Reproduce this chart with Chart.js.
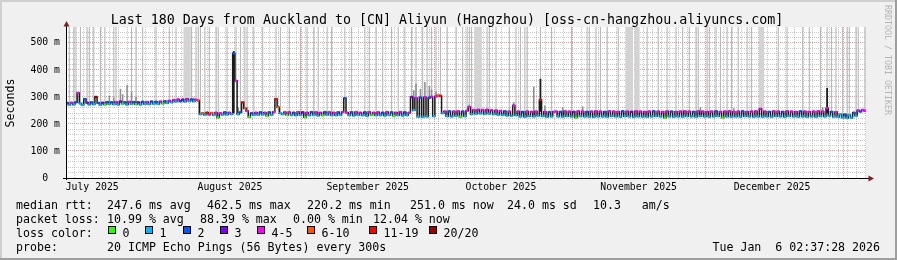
<!DOCTYPE html>
<html><head><meta charset="utf-8">
<style>html,body{margin:0;padding:0;background:#f0f0f0;overflow:hidden}canvas{display:block}</style>
<script src="https://cdn.jsdelivr.net/npm/chart.js@4.4.1/dist/chart.umd.min.js"></script>
</head><body>
<canvas id="c" width="897" height="260"></canvas>
<script>
// ---------------- data ----------------
const titleText = 'Last 180 Days from Auckland to [CN] Aliyun (Hangzhou) [oss-cn-hangzhou.aliyuncs.com]';
const monthLabels = ['July 2025','August 2025','September 2025','October 2025','November 2025','December 2025'];
const monthLabelDays = [5.89, 36.89, 67.89, 97.85, 128.85, 158.85];   // days since start (mid-month)
const monthStartDays = [21.89, 52.89, 82.85, 113.85, 143.85, 174.85]; // days since start (1st of month)
const minorGridStartDay = 1.89;   // minor grid every 2 days
const yGridValues = [0,20,40,60,80,100,120,140,160,180,200,220,240,260,280,300,320,340,360,380,400,420,440,460,480,500,520,540];
const Y_MAX = 559;

const lossLabels = ['0','1','2','3','4-5','6-10','11-19','20/20'];
const lossColors = ['#26ff00','#00b8ff','#0059ff','#7e00ff','#ff00ff','#ff5500','#ff0000','#a10000'];

const rttStats  = ['247.6 ms avg','462.5 ms max','220.2 ms min','251.0 ms now','24.0 ms sd','10.3   am/s'];
const lossStats = ['10.99 % avg','88.39 % max','0.00 % min','12.04 % now'];
const probeText = '20 ICMP Echo Pings (56 Bytes) every 300s';
const dateText  = 'Tue Jan  6 02:37:28 2026';

// median RTT (ms), one value per half day (360 samples)
const median = [
278,271,279,272,280,315,276,270,292,279,272,280,273,300,278,271,279,272,281,274,
280,273,281,272,283,275,280,272,282,274,281,273,280,272,282,274,281,273,283,275,
282,274,283,276,284,278,286,280,289,283,291,284,290,283,292,285,291,284,290,287,
236,240,234,242,235,241,233,242,224,240,234,243,235,242,236,462,360,236,243,280,
258,248,226,240,233,242,234,243,235,242,230,243,234,244,292,262,240,236,243,233,
243,233,242,232,244,233,243,225,242,232,244,233,243,231,242,232,244,234,243,232,
242,232,243,233,244,295,242,232,243,231,244,233,242,232,243,230,244,233,242,232,
243,232,242,231,244,233,243,230,242,232,244,231,243,232,242,300,251,296,227,298,
226,299,228,297,301,229,302,305,304,240,246,229,247,228,246,230,247,227,246,229,
249,263,236,252,238,253,239,252,237,253,238,251,236,250,234,248,233,247,231,246,
230,268,232,246,228,245,227,246,229,245,228,246,230,289,229,245,227,244,228,245,
246,228,245,227,247,229,246,228,245,224,247,229,246,228,245,227,246,226,247,228,
246,228,245,227,247,229,246,228,245,227,247,229,246,228,245,226,247,228,246,227,
245,227,246,228,247,229,246,228,245,223,247,228,246,227,245,228,246,227,247,229,
246,228,245,227,247,229,246,228,245,227,246,228,247,229,245,224,246,228,247,227,
245,228,246,227,247,229,245,228,246,227,247,228,256,227,246,228,245,227,247,229,
246,228,245,227,247,229,246,228,245,227,247,228,246,227,245,228,246,227,247,229,
246,228,258,230,245,227,244,226,236,224,235,222,233,223,242,230,250,246,252,249
];
// loss class per sample (index into lossColors)
const loss = [
2,1,4,1,2,4,1,1,2,3,1,2,1,7,2,1,3,0,2,1,
2,1,4,1,3,0,2,1,4,1,2,0,3,1,2,1,4,1,2,1,
2,1,4,0,2,1,4,1,4,1,4,2,3,1,4,1,2,1,4,5,
1,5,1,6,4,5,1,4,0,4,1,2,1,4,1,2,4,1,2,6,
5,4,0,2,1,4,1,2,1,4,0,2,1,4,6,5,1,1,4,0,
4,1,2,1,4,1,3,0,4,1,2,1,4,1,4,0,2,1,4,1,
4,1,2,1,4,2,4,1,2,1,4,1,4,1,2,1,4,0,4,1,
4,1,2,1,4,1,2,0,4,1,4,1,2,1,4,3,1,4,1,2,
1,4,1,2,4,1,4,5,6,1,4,1,2,1,4,1,4,0,2,1,
4,4,1,4,1,4,1,4,1,4,1,4,1,4,1,4,1,2,1,4,
1,4,1,4,1,2,1,4,1,4,1,4,1,6,1,4,1,2,1,4,
4,1,2,1,4,1,4,1,3,0,4,1,4,1,2,1,4,1,4,1,
4,1,2,1,4,1,4,1,4,1,2,1,4,1,3,1,4,1,4,1,
4,1,4,1,2,1,4,1,4,0,4,1,2,1,4,1,4,1,4,1,
4,1,2,1,4,1,4,1,4,1,4,1,2,1,4,0,4,1,4,1,
4,1,4,1,2,1,4,1,4,1,4,1,4,1,4,1,2,1,4,1,
4,1,2,1,4,1,4,1,4,1,2,1,4,1,4,1,4,1,4,1,
4,1,4,1,2,1,4,1,1,1,2,1,1,1,2,1,4,2,4,4
];
// samples whose smoke reaches above the graph top
const stripeIdx = [1,3,4,6,9,10,12,15,17,21,22,29,31,34,40,46,49,56,58,59,60,62,64,67,68,72,76,78,80,81,84,88,94,96,
  100,105,108,111,113,117,119,125,128,134,136,139,142,146,149,152,155,157,160,162,164,166,168,171,175,178,180,181,182,
  189,190,193,199,202,204,206,207,213,218,227,234,235,238,240,243,248,261,266,270,274,277,280,283,284,288,289,292,294,
  297,299,302,306,308,320,324,331,334,339,342,344,346,349,351,352,355,356,359];
const stripeDarkIdx = [53,54,55,184,185,186,252,253,254,256,257,312,313];
// denser smoke just above the median
const smokeIdx = [19,21,24,25,27,29,31,52,57,77,81,95,156,157,159,161,163,164,166,181,201,210,215,223,232,285,300,340];
const smokeTop = [305,298,330,310,345,318,300,297,298,262,262,270,325,350,330,355,340,328,320,272,280,338,268,262,265,262,258,262];
// dark spikes
const spikeIdx = [75,213,342];
const spikeLo  = [240,245,240];
const spikeHi  = [470,367,333];

// ---------------- build ----------------
const FONT = '"DejaVu Sans Mono", "Liberation Mono", monospace';
const xOf = i => i * 0.5 + 0.25;
const gridTicks = [];
for (let d = minorGridStartDay; d < 180; d += 2) {
  if (!monthStartDays.some(m => Math.abs(m - d) < 0.3)) gridTicks.push({value: d, major: false});
}
monthStartDays.forEach(m => gridTicks.push({value: m, major: true}));
gridTicks.sort((a, b) => a.value - b.value);

const minorCol = 'rgba(143,143,143,0.5)';
const majorCol = 'rgba(222,80,80,0.6)';

const barCommon = {type: 'bar', xAxisID: 'x2', grouped: false, barPercentage: 1, categoryPercentage: 1, borderWidth: 0};

const decor = {
  id: 'decor',
  beforeDraw(chart) {
    const ctx = chart.ctx, a = chart.chartArea;
    ctx.save();
    ctx.fillStyle = '#f0f0f0';
    ctx.fillRect(0, 0, chart.width, chart.height);
    ctx.fillStyle = '#ffffff';
    ctx.fillRect(a.left, a.top, a.right - a.left, a.bottom - a.top);
    ctx.restore();
  },
  afterDraw(chart) {
    const ctx = chart.ctx, a = chart.chartArea;
    ctx.save();
    // axes
    ctx.strokeStyle = '#000';
    ctx.lineWidth = 1;
    ctx.beginPath();
    ctx.moveTo(a.left + 0.5, a.bottom + 2);
    ctx.lineTo(a.left + 0.5, a.top - 2);
    ctx.moveTo(a.left - 3, a.bottom + 0.5);
    ctx.lineTo(a.right + 3, a.bottom + 0.5);
    ctx.stroke();
    ctx.fillStyle = '#7f1f1f';
    ctx.beginPath();
    ctx.moveTo(a.left + 0.5, a.top - 6);
    ctx.lineTo(a.left - 2.5, a.top - 0.5);
    ctx.lineTo(a.left + 3.5, a.top - 0.5);
    ctx.closePath(); ctx.fill();
    ctx.beginPath();
    ctx.moveTo(a.right + 8, a.bottom + 0.5);
    ctx.lineTo(a.right + 2.5, a.bottom - 2.5);
    ctx.lineTo(a.right + 2.5, a.bottom + 3.5);
    ctx.closePath(); ctx.fill();

    // title
    ctx.fillStyle = '#000';
    ctx.font = '13.3px ' + FONT;
    ctx.textAlign = 'center';
    ctx.textBaseline = 'alphabetic';
    ctx.fillText(titleText, 447, 24);

    // unit label
    ctx.save();
    ctx.font = '11.6px ' + FONT;
    ctx.translate(11, 103);
    ctx.rotate(-Math.PI / 2);
    ctx.textBaseline = 'middle';
    ctx.fillText('Seconds', 0, 0);
    ctx.restore();

    // watermark
    ctx.save();
    ctx.font = '8.3px ' + FONT;
    ctx.fillStyle = '#b4b4b4';
    ctx.translate(887, 5);
    ctx.rotate(Math.PI / 2);
    ctx.textAlign = 'left';
    ctx.textBaseline = 'middle';
    ctx.fillText('RRDTOOL / TOBI OETIKER', 0, 0);
    ctx.restore();

    // legend
    ctx.font = '11.6px ' + FONT;
    ctx.textAlign = 'left';
    ctx.fillStyle = '#000';
    const rows = [208.5, 222.5, 236.5, 250.5];
    ctx.fillText('median rtt:', 16, rows[0]);
    [107, 207, 307, 410, 507, 593].forEach((x, k) => ctx.fillText(rttStats[k], x, rows[0]));
    ctx.fillText('packet loss:', 16, rows[1]);
    [107, 200, 293, 373].forEach((x, k) => ctx.fillText(lossStats[k], x, rows[1]));
    ctx.fillText('loss color:', 16, rows[2]);
    [108, 145, 183, 220, 257, 307, 369, 429].forEach((x, k) => {
      ctx.fillStyle = lossColors[k];
      ctx.fillRect(x, 226, 8, 8);
      ctx.strokeStyle = '#000';
      ctx.strokeRect(x + 0.5, 226.5, 7, 7);
      ctx.fillStyle = '#000';
      ctx.fillText(lossLabels[k], x + 14.5, rows[2]);
    });
    ctx.fillText('probe:', 16, rows[3]);
    ctx.fillText(probeText, 107, rows[3]);
    ctx.textAlign = 'right';
    ctx.fillText(dateText, 880, rows[3]);

    // frame
    ctx.fillStyle = '#cfcfcf';
    ctx.fillRect(0, 0, chart.width, 2);
    ctx.fillRect(0, 0, 2, chart.height);
    ctx.fillStyle = '#9e9e9e';
    ctx.fillRect(chart.width - 2, 0, 2, chart.height);
    ctx.fillRect(0, chart.height - 2, chart.width, 2);
    ctx.restore();
  }
};

new Chart(document.getElementById('c'), {
  type: 'bar',
  data: {
    datasets: [
      Object.assign({}, barCommon, {label: 'smoke high', order: 6, backgroundColor: '#b9b9b9', barPercentage: 0.5,
        data: stripeIdx.map(i => ({x: xOf(i), y: [median[i], Y_MAX]}))}),
      Object.assign({}, barCommon, {label: 'smoke high wide', order: 5, backgroundColor: '#d3d3d3',
        data: stripeDarkIdx.map(i => ({x: xOf(i), y: [median[i], Y_MAX]}))}),
      Object.assign({}, barCommon, {label: 'smoke', order: 4, backgroundColor: '#8e8e8e', barPercentage: 0.7,
        data: smokeIdx.map((i, k) => ({x: xOf(i), y: [median[i], smokeTop[k]]}))}),
      Object.assign({}, barCommon, {label: 'spikes', order: 3, backgroundColor: '#1c1c1c', barPercentage: 0.8,
        data: spikeIdx.map((i, k) => ({x: xOf(i), y: [spikeLo[k], spikeHi[k]]}))}),
      {type: 'line', label: 'median', xAxisID: 'x2', order: 2, stepped: 'middle',
        borderColor: '#1a1a1a', borderWidth: 1.5, pointRadius: 0,
        data: median.map((v, i) => ({x: xOf(i), y: v}))},
      {type: 'line', label: 'loss', xAxisID: 'x2', order: 1, showLine: false,
        pointStyle: 'line', pointRadius: 1.2, pointBorderWidth: 2.4,
        pointBorderColor: loss.map(l => lossColors[l]), pointBackgroundColor: loss.map(l => lossColors[l]),
        data: median.map((v, i) => ({x: xOf(i), y: v}))}
    ]
  },
  options: {
    responsive: false,
    animation: false,
    devicePixelRatio: 1,
    events: [],
    layout: {padding: {left: 0, right: 31, top: 27, bottom: 0}},
    plugins: {legend: {display: false}, tooltip: {enabled: false}, title: {display: false}},
    scales: {
      x: {
        type: 'linear', min: 0, max: 180, position: 'bottom', offset: false,
        afterBuildTicks: s => { s.ticks = gridTicks.map(t => ({value: t.value, major: t.major})); },
        ticks: {display: false},
        grid: {offset: false, drawTicks: false, lineWidth: 1, color: c => (c.tick && c.tick.major) ? majorCol : minorCol},
        border: {display: false, dash: [1, 1]},
        afterFit: s => { s.height = 0; }
      },
      x2: {
        type: 'linear', min: 0, max: 180, position: 'bottom', offset: false,
        afterBuildTicks: s => { s.ticks = monthLabelDays.map(v => ({value: v})); },
        ticks: {autoSkip: false, maxRotation: 0, minRotation: 0, padding: 4, color: '#000',
          font: {family: FONT, size: 9.8}, callback: (v, i) => monthLabels[i]},
        grid: {display: false, offset: false, drawTicks: false},
        border: {display: false},
        afterFit: s => { s.height = 82; }
      },
      y: {
        type: 'linear', min: 0, max: Y_MAX,
        afterBuildTicks: s => { s.ticks = yGridValues.map(v => ({value: v, major: v % 100 === 0})); },
        ticks: {autoSkip: false, padding: 6, color: '#000', font: {family: FONT, size: 9.8},
          callback: v => v % 100 === 0 ? (v === 0 ? '0  ' : v + ' m') : ''},
        grid: {drawTicks: false, lineWidth: 1, color: c => (c.tick && c.tick.major) ? majorCol : minorCol},
        border: {display: false, dash: [1, 1]},
        afterFit: s => { s.width = 66; }
      }
    }
  },
  plugins: [decor]
});
</script>
</body></html>
